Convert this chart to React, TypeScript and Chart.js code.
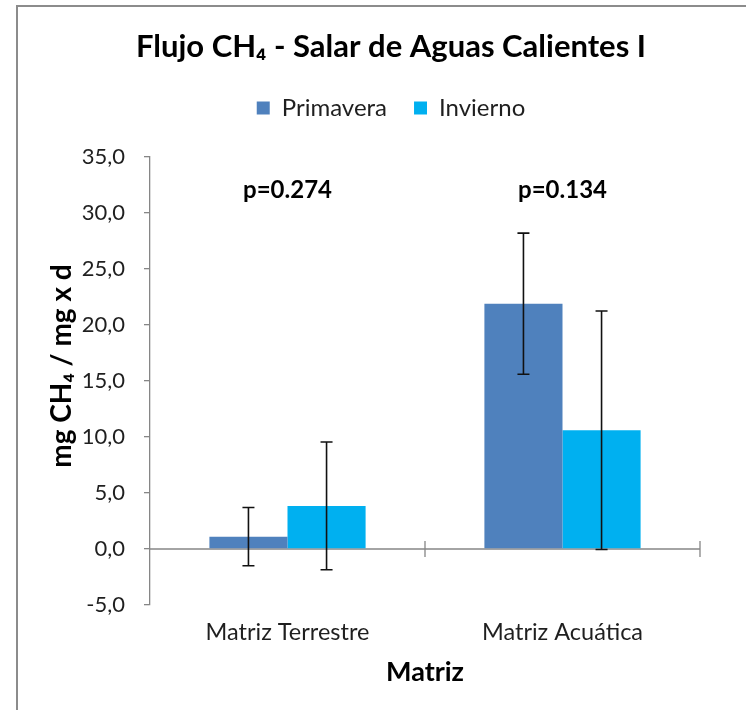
import React, { useEffect, useRef } from "react";
import { Chart, registerables } from "chart.js";

Chart.register(...registerables);

const TITLE = "Flujo CH₄ - Salar de Aguas Calientes I";
const Y_TITLE = "mg CH₄ / mg x d";
const X_TITLE = "Matriz";
const CATEGORIES = ["Matriz Terrestre", "Matriz Acuática"];
const SERIES_NAMES = ["Primavera", "Invierno"];
const PRIMAVERA = [1.1, 21.9];
const INVIERNO = [3.85, 10.6];
const PRIMAVERA_ERR = [2.6, 6.3];
const INVIERNO_ERR = [5.7, 10.65];
const P_VALUES = ["p=0.274", "p=0.134"];
const P_LEVEL = 32;
const Y_MIN = -5;
const Y_MAX = 35;
const Y_STEP = 5;

const COLORS = ["#4F81BD", "#00B0F0"];
const FONT = 'Lato, "DejaVu Sans", sans-serif';
const TEXT = "#1f1f1f";
const AXIS = "#868686";

const overlay = {
  id: "overlay",
  beforeDatasetsDraw(chart: any) {
    const { ctx, chartArea, scales } = chart;
    const y0 = scales.y.getPixelForValue(0);
    ctx.save();
    ctx.strokeStyle = AXIS;
    ctx.lineWidth = 1.3;
    ctx.beginPath();
    ctx.moveTo(chartArea.left, y0);
    ctx.lineTo(chartArea.right, y0);
    const n = CATEGORIES.length;
    const w = (chartArea.right - chartArea.left) / n;
    for (let i = 1; i <= n; i++) {
      const x = chartArea.left + i * w;
      ctx.moveTo(x, y0 - 8);
      ctx.lineTo(x, y0 + 8);
    }
    ctx.stroke();
    ctx.restore();
  },
  afterDatasetsDraw(chart: any) {
    const { ctx, scales, chartArea } = chart;
    const values = [PRIMAVERA, INVIERNO];
    const errs = [PRIMAVERA_ERR, INVIERNO_ERR];
    ctx.save();
    ctx.strokeStyle = "#111";
    ctx.lineWidth = 1.6;
    values.forEach((vals, d) => {
      const meta = chart.getDatasetMeta(d);
      meta.data.forEach((bar: any, i: number) => {
        const x = bar.x;
        const top = scales.y.getPixelForValue(vals[i] + errs[d][i]);
        const bot = scales.y.getPixelForValue(vals[i] - errs[d][i]);
        ctx.beginPath();
        ctx.moveTo(x, top);
        ctx.lineTo(x, bot);
        ctx.moveTo(x - 6, top);
        ctx.lineTo(x + 6, top);
        ctx.moveTo(x - 6, bot);
        ctx.lineTo(x + 6, bot);
        ctx.stroke();
      });
    });
    ctx.fillStyle = "#000";
    ctx.font = `bold 24px ${FONT}`;
    ctx.textAlign = "center";
    ctx.textBaseline = "middle";
    P_VALUES.forEach((p, i) => {
      ctx.fillText(p, scales.x.getPixelForTick(i), scales.y.getPixelForValue(P_LEVEL));
    });
    // y-axis title
    ctx.font = `bold 28px ${FONT}`;
    ctx.translate(62, (chartArea.top + chartArea.bottom) / 2 - 15);
    ctx.rotate(-Math.PI / 2);
    ctx.fillText(Y_TITLE, 0, 0);
    ctx.restore();
  },
};

export default function App() {
  const ref = useRef<HTMLCanvasElement>(null);
  useEffect(() => {
    if (!ref.current) return;
    Chart.defaults.font.family = FONT;
    const chart = new Chart(ref.current, {
      type: "bar",
      data: {
        labels: CATEGORIES,
        datasets: [
          { label: SERIES_NAMES[0], data: PRIMAVERA, backgroundColor: COLORS[0], borderWidth: 0 },
          { label: SERIES_NAMES[1], data: INVIERNO, backgroundColor: COLORS[1], borderWidth: 0 },
        ],
      },
      options: {
        responsive: false,
        animation: false,
        devicePixelRatio: 1,
        layout: { padding: { left: 82, right: 46, top: 0, bottom: 0 } },
        datasets: { bar: { categoryPercentage: 0.568, barPercentage: 1 } },
        plugins: {
          tooltip: { enabled: false },
          title: {
            display: true,
            text: TITLE,
            color: "#000",
            font: { size: 31, weight: "bold", family: FONT },
            padding: { top: 28.4, bottom: 3.4 },
          },
          subtitle: {
            display: true,
            text: " ",
            weight: 500,
            font: { size: 12 },
            padding: { top: 0, bottom: 12.6 },
          },
          legend: {
            display: true,
            position: "top",
            labels: {
              boxWidth: 13,
              boxHeight: 13,
              padding: 27,
              color: TEXT,
              font: { size: 24, family: FONT },
            },
          },
        },
        scales: {
          x: {
            type: "category",
            offset: true,
            grid: { display: false, drawTicks: false },
            border: { display: false },
            ticks: { color: TEXT, padding: 13, font: { size: 23.5, family: FONT } },
            title: {
              display: true,
              text: X_TITLE,
              color: "#000",
              font: { size: 27, weight: "bold", family: FONT },
              padding: { top: 0, bottom: 21.8 },
            },
            afterFit: (s: any) => {
              s.height = 105;
            },
          },
          y: {
            min: Y_MIN,
            max: Y_MAX,
            grid: { display: true, drawOnChartArea: false, drawTicks: true, tickLength: 6, color: AXIS, lineWidth: 1.3 },
            border: { display: true, color: AXIS, width: 1.3 },
            ticks: {
              stepSize: Y_STEP,
              color: TEXT,
              padding: 19,
              font: { size: 22, family: FONT },
              callback: (v: any) => Number(v).toFixed(1).replace(".", ","),
            },
            afterFit: (s: any) => {
              s.width = 68;
            },
          },
        },
      },
      plugins: [overlay],
    } as any);
    return () => chart.destroy();
  }, []);
  return (
    <div style={{ position: "absolute", left: 0, top: 0, width: 746, height: 710, background: "#fff", overflow: "hidden" }}>
      <div
        style={{
          position: "absolute",
          left: 16,
          top: 5,
          width: 760,
          height: 720,
          borderLeft: "2px solid #8c8c8c",
          borderTop: "2px solid #8c8c8c",
        }}
      />
      <canvas ref={ref} width={746} height={710} style={{ position: "absolute", left: 0, top: 0, display: "block" }} />
    </div>
  );
}
